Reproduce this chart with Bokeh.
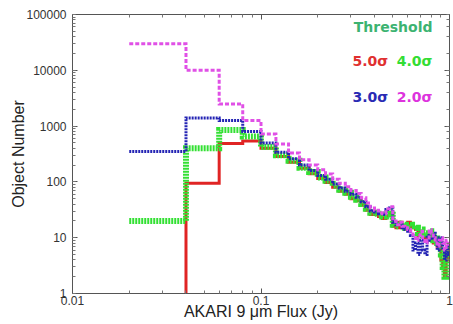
from bokeh.plotting import figure
from bokeh.models import LogAxis, Label, CustomJSTickFormatter, FixedTicker
from bokeh.embed import file_html
from bokeh.resources import INLINE

# Histogram bin edges (Jy)
bin_edges = [0.02, 0.04, 0.06, 0.08, 0.10, 0.12, 0.14, 0.16, 0.18, 0.20,
             0.22, 0.24, 0.26, 0.28, 0.30, 0.32, 0.34, 0.36, 0.38, 0.40,
             0.42, 0.44, 0.46, 0.48, 0.50, 0.52, 0.54, 0.56, 0.58, 0.60,
             0.62, 0.64, 0.66, 0.68, 0.70, 0.72, 0.74, 0.76, 0.78, 0.80,
             0.82, 0.84, 0.86, 0.88, 0.90, 0.92, 0.94, 0.96, 0.98, 1.00]

counts_5sigma = [0, 95, 490, 540,
                 400, 285, 225, 175, 140, 115, 98, 80, 68, 60,
                 50, 46, 38, 31, 26, 26, 24, 22, 25, 28,
                 16, 15, 19, 15, 14, 19, 15, 15, 14, 11,
                 13, 10, 11, 9, 12, 9, 8, 10, 7, 8,
                 4, 3, 2, 5, 4]
counts_4sigma = [20, 400, 850, 650,
                 420, 300, 240, 180, 150, 120, 105, 85, 72, 64,
                 54, 48, 40, 33, 28, 27, 25, 24, 26, 30,
                 17, 16, 18, 16, 15, 17, 16, 17, 15, 12,
                 14, 11, 12, 10, 13, 10, 9, 11, 8, 9,
                 5, 3, 2, 6, 5]
counts_3sigma = [350, 1400, 1260, 800,
                 500, 340, 260, 200, 160, 130, 112, 92, 78, 68,
                 60, 53, 44, 36, 30, 29, 27, 26, 32, 34,
                 19, 17, 17, 15, 14, 13, 11, 6, 8, 5,
                 9, 6, 5, 11, 9, 10, 12, 9, 6, 10,
                 8, 6, 4, 7, 5]
counts_2sigma = [30000, 10000, 2500, 1260,
                 720, 480, 330, 250, 200, 165, 138, 112, 95, 82,
                 70, 62, 52, 42, 34, 31, 28, 27, 33, 36,
                 20, 17, 19, 16, 15, 14, 13, 10, 9, 11,
                 13, 10, 8, 9, 14, 12, 10, 8, 7, 9,
                 10, 8, 6, 9, 7]

x_major_ticks = [0.01, 0.1, 1]
x_minor_ticks = [0.02, 0.03, 0.04, 0.05, 0.06, 0.07, 0.08, 0.09,
                 0.2, 0.3, 0.4, 0.5, 0.6, 0.7, 0.8, 0.9]
x_tick_labels = ["0.01", "0.1", "1"]
y_tick_labels = ["1", "10", "100", "1000", "10000", "100000"]


def step_path(edges, counts, floor=0.1):
    xs, ys = [], []
    for i, c in enumerate(counts):
        v = c if c > 0 else floor  # empty bins fall below the log axis
        xs += [edges[i], edges[i + 1]]
        ys += [v, v]
    return xs, ys


p = figure(width=453, height=324, x_axis_type="log", y_axis_type="log",
           x_range=(0.01, 1), y_range=(1, 100000),
           output_backend="svg", toolbar_location=None,
           min_border_left=72, min_border_right=4,
           min_border_top=14, min_border_bottom=31)
p.grid.visible = False
p.outline_line_color = "#555555"
p.background_fill_color = "white"
p.border_fill_color = "white"

series = [
    (counts_5sigma, "#e02424", 3, "solid"),
    (counts_4sigma, "#33e033", 6, "2 1"),
    (counts_3sigma, "#2424b4", 3, "2 1"),
    (counts_2sigma, "#e050e6", 3, "4 2"),
]
for counts, color, lw, dash in series:
    xs, ys = step_path(bin_edges, counts)
    p.line(xs, ys, line_color=color, line_width=lw, line_dash=dash,
           line_cap="butt", line_join="miter")

x_ticker = FixedTicker(ticks=x_major_ticks, minor_ticks=x_minor_ticks)
p.xaxis[0].ticker = x_ticker
p.xaxis[0].major_label_overrides = {t: s for t, s in zip(x_major_ticks, x_tick_labels)}
p.yaxis[0].major_label_overrides = {10 ** i: s for i, s in enumerate(y_tick_labels)}

fmt = CustomJSTickFormatter(code="return Number(tick.toPrecision(6)).toString();")
for ax in (p.xaxis[0], p.yaxis[0]):
    ax.formatter = fmt
    ax.major_label_text_font = "Liberation Sans"
    ax.major_label_text_font_size = "12px"
    ax.major_label_text_color = "#333333"
    ax.axis_line_color = "#555555"
    ax.major_tick_line_color = "#555555"
    ax.minor_tick_line_color = "#777777"
    ax.major_tick_in = 5
    ax.major_tick_out = 0
    ax.minor_tick_in = 3
    ax.minor_tick_out = 0
    ax.axis_label_text_font = "Liberation Sans"
    ax.axis_label_text_font_size = "16px"
    ax.axis_label_text_font_style = "normal"
    ax.axis_label_text_color = "#222222"

p.xaxis[0].axis_label = "AKARI 9 μm Flux (Jy)"
p.xaxis[0].major_label_standoff = 2
p.xaxis[0].axis_label_standoff = -5
p.yaxis[0].axis_label = "Object Number"
p.yaxis[0].major_label_standoff = 6
p.yaxis[0].axis_label_standoff = -4

blank = CustomJSTickFormatter(code="return '';")
for loc in ("right", "above"):
    ax = LogAxis(formatter=blank, major_label_text_font_size="0px",
                 major_label_standoff=0, axis_line_color="#555555",
                 major_tick_line_color="#555555", minor_tick_line_color="#777777",
                 major_tick_in=5, major_tick_out=0, minor_tick_in=3, minor_tick_out=0)
    if loc == "above":
        ax.ticker = FixedTicker(ticks=x_major_ticks, minor_ticks=x_minor_ticks)
    p.add_layout(ax, loc)

font = "DejaVu Sans"
legend_items = [
    ("Threshold", 0.812, 58500, "right", "#3cb371"),
    ("5.0σ", 0.3057, 14400, "left", "#e03030"),
    ("4.0σ", 0.812, 14400, "right", "#33dd33"),
    ("3.0σ", 0.3057, 3390, "left", "#2a2ab4"),
    ("2.0σ", 0.812, 3390, "right", "#dd33dd"),
]
for txt, x, y, align, color in legend_items:
    p.add_layout(Label(x=x, y=y, text=txt, text_align=align, text_baseline="middle",
                       text_font=font, text_font_style="bold", text_font_size="14px",
                       text_color=color))

open("out.html", "w").write(file_html(p, INLINE))
